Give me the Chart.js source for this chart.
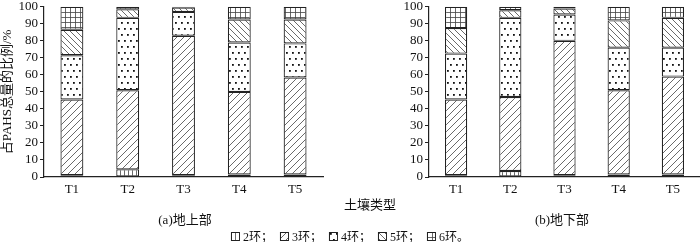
<!DOCTYPE html>
<html>
<head>
<meta charset="utf-8">
<script src="https://cdn.jsdelivr.net/npm/chart.js@4.4.0/dist/chart.umd.min.js"></script>
<style>
  body { margin: 0; background: #fff; }
  #wrap { position: relative; width: 700px; height: 242px; overflow: hidden;
          font-family: "Liberation Serif", "Noto Sans CJK SC", serif; color: #111; }
  .box { position: absolute; top: -3px; height: 198px; }
  .lbl { position: absolute; transform: translate(-50%, -50%); white-space: nowrap; font-size: 13px; }
  #legend { position: absolute; left: 350px; top: 236px; transform: translate(-50%, -50%);
            display: flex; align-items: center; font-size: 12px; white-space: nowrap; }
  #legend canvas { margin: 0 3px 0 7px; }
  #legend canvas:first-child { margin-left: 0; }
</style>
</head>
<body>
<div id="wrap">
  <div class="box" style="left:0;width:350px"><canvas id="chartA"></canvas></div>
  <div class="box" style="left:350px;width:350px"><canvas id="chartB"></canvas></div>
  <div class="lbl" style="left:370px;top:203px">土壤类型</div>
  <div class="lbl" style="left:185px;top:218px">(a)地上部</div>
  <div class="lbl" style="left:562px;top:218px">(b)地下部</div>
  <div id="legend"></div>
</div>
<script>
// soil types
const categories = ["T1", "T2", "T3", "T4", "T5"];
const ringNames = ["2环", "3环", "4环", "5环", "6环"];

// (a) above ground, share of total PAHs (%)
const ring2A = [1, 4.5, 1, 1.5, 1.5];
const ring3A = [44.5, 46.5, 82, 48.5, 57];
const ring4A = [26, 42.5, 14, 29, 20];
const ring5A = [15, 5, 2.5, 13.5, 14];
const ring6A = [13.5, 1.5, 0.5, 7.5, 7.5];

// (b) below ground
const ring2B = [1, 3.5, 1, 1.5, 1.5];
const ring3B = [44.5, 43.5, 79, 49.5, 57.5];
const ring4B = [27, 46.5, 15.5, 25, 17];
const ring5B = [15, 4.5, 3.5, 16, 17.5];
const ring6B = [12.5, 2, 1, 8, 6.5];

const yTicks = [0, 10, 20, 30, 40, 50, 60, 70, 80, 90, 100];

// hatch tiles
function makeTile(kind) {
    const c = document.createElement("canvas");
    const s = { vert: 4, slash: 7, dots: 6, back: 6, grid: 5 }[kind];
    c.width = s; c.height = kind === "dots" ? s * 2 : s;
    const g = c.getContext("2d");
    g.fillStyle = "#fff";
    g.fillRect(0, 0, c.width, c.height);
    g.strokeStyle = "#444";
    g.fillStyle = "#111";
    g.lineWidth = 0.8;
    g.beginPath();
    if (kind === "vert") {
        g.moveTo(0.5, 0); g.lineTo(0.5, s);
    } else if (kind === "slash") {
        g.moveTo(0, s); g.lineTo(s, 0);
        g.moveTo(-1, 1); g.lineTo(1, -1);
        g.moveTo(s - 1, s + 1); g.lineTo(s + 1, s - 1);
    } else if (kind === "back") {
        g.moveTo(0, 0); g.lineTo(s, s);
        g.moveTo(s - 1, -1); g.lineTo(s + 1, 1);
        g.moveTo(-1, s - 1); g.lineTo(1, s + 1);
    } else if (kind === "grid") {
        g.moveTo(0.5, 0); g.lineTo(0.5, s);
        g.moveTo(0, 0.5); g.lineTo(s, 0.5);
    }
    g.stroke();
    if (kind === "dots") {
        // staggered dots
        g.fillRect(1, 1, 1.8, 1.8);
        g.fillRect(4, 7, 1.8, 1.8);
    }
    return c;
}

const kinds = ["vert", "slash", "dots", "back", "grid"];
const tmp = document.createElement("canvas").getContext("2d");
const patterns = kinds.map(k => tmp.createPattern(makeTile(k), "repeat"));

function buildDatasets(series) {
    return series.map((vals, i) => ({
        label: ringNames[i],
        data: vals,
        backgroundColor: patterns[i],
        borderColor: "#222",
        borderWidth: 1.2,
        borderSkipped: false,
        barPercentage: 0.41,
        categoryPercentage: 1
    }));
}

function makeChart(id, series, axisWidth, padRight, showTitle) {
    return new Chart(document.getElementById(id), {
        type: "bar",
        data: { labels: categories, datasets: buildDatasets(series) },
        options: {
            responsive: true,
            maintainAspectRatio: false,
            animation: false,
            layout: { padding: { left: 0, right: padRight, top: 0, bottom: 0 } },
            plugins: { legend: { display: false }, tooltip: { enabled: false } },
            scales: {
                x: {
                    stacked: true,
                    grid: { display: false, drawTicks: false },
                    border: { display: true, color: "#222", width: 1.2 },
                    ticks: { color: "#111", padding: 5, font: { family: "Liberation Serif", size: 13 } },
                    afterFit: s => { s.height = 18; }
                },
                y: {
                    stacked: true,
                    min: 0,
                    max: 100,
                    afterBuildTicks: s => { s.ticks = yTicks.map(v => ({ value: v })); },
                    grid: { drawOnChartArea: false, drawTicks: true, tickLength: 4, color: "#222" },
                    border: { display: true, color: "#222", width: 1.2 },
                    ticks: { color: "#111", padding: 2, autoSkip: false, font: { family: "Liberation Serif", size: 13 } },
                    title: {
                        display: showTitle,
                        text: "占PAHS总量的比例/%",
                        color: "#111",
                        padding: 0,
                        font: { family: "Liberation Serif, Noto Sans CJK SC", size: 13 }
                    },
                    afterFit: s => { s.width = axisWidth; }
                }
            }
        }
    });
}

makeChart("chartA", [ring2A, ring3A, ring4A, ring5A, ring6A], 44, 27, true);
makeChart("chartB", [ring2B, ring3B, ring4B, ring5B, ring6B], 79, 0, false);

// legend with the same hatch swatches
const legend = document.getElementById("legend");
ringNames.forEach((name, i) => {
    const sw = document.createElement("canvas");
    sw.width = 9; sw.height = 9;
    const g = sw.getContext("2d");
    g.fillStyle = g.createPattern(makeTile(kinds[i]), "repeat");
    g.fillRect(0, 0, 9, 9);
    g.strokeStyle = "#222";
    g.lineWidth = 1;
    g.strokeRect(0.5, 0.5, 8, 8);
    legend.appendChild(sw);
    const t = document.createElement("span");
    t.textContent = name + (i < ringNames.length - 1 ? "；" : "。");
    legend.appendChild(t);
});
</script>
</body>
</html>
